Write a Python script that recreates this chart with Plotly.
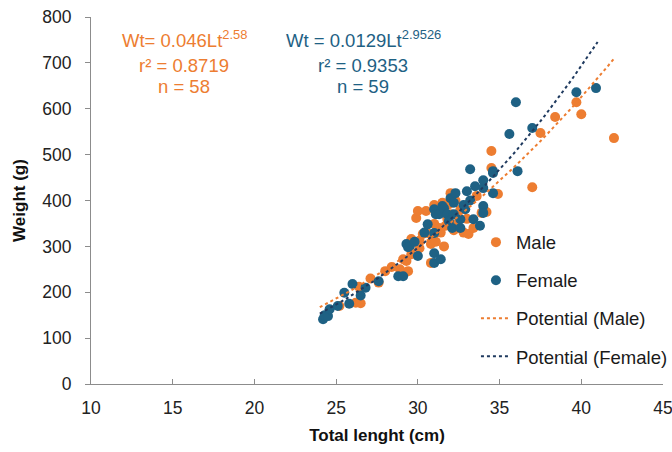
import numpy as np
import plotly.graph_objects as go

# ---- data ----
male_len = [25.2, 26.2, 26.5, 26.4, 27.1, 27.6, 28.0, 28.4, 28.9, 29.1,
            29.3, 29.4, 29.6, 29.9, 30.0, 30.1, 30.1, 30.3, 30.5, 30.6,
            30.8, 30.8, 30.9, 31.0, 31.0, 31.1, 31.2, 31.3, 31.4, 31.5,
            31.6, 31.7, 31.8, 31.9, 32.0, 32.0, 32.2, 32.3, 32.4, 32.5,
            32.6, 32.8, 33.0, 33.1, 33.4, 33.6, 33.9, 34.2, 34.5, 34.5,
            34.9, 37.0, 37.5, 38.4, 39.7, 40.0, 42.0, 29.6]
male_wt = [170, 177, 176, 212, 230, 221, 246, 255, 250, 272,
           268, 246, 283, 362, 377, 312, 296, 327, 377, 329,
           305, 264, 322, 349, 390, 310, 377, 340, 330, 395,
           300, 345, 360, 392, 416, 370, 335, 400, 350, 340,
           380, 330, 360, 327, 340, 410, 373, 375, 508, 471,
           414, 429, 547, 582, 614, 588, 536, 316]

female_len = [24.2, 24.3, 24.5, 24.6, 25.1, 25.5, 25.8, 26.0, 26.5, 26.8,
              27.6, 28.8, 29.1, 29.3, 29.4, 29.5, 29.8, 30.0, 30.4, 30.6,
              31.0, 31.0, 31.0, 31.0, 31.1, 31.3, 31.4, 31.5, 31.6, 31.8,
              31.9, 32.0, 32.1, 32.2, 32.2, 32.3, 32.6, 32.6, 32.8, 32.9,
              33.0, 33.2, 33.2, 33.4, 33.5, 33.8, 34.0, 34.0, 34.0, 34.0,
              34.6, 34.6, 34.6, 35.6, 36.0, 36.1, 37.0, 39.7, 40.9]
female_wt = [141, 150, 148, 163, 170, 199, 175, 218, 193, 210,
             224, 235, 235, 305, 298, 300, 310, 279, 330, 348,
             329, 285, 264, 381, 370, 370, 272, 388, 383, 370,
             355, 405, 340, 395, 370, 416, 359, 340, 390, 381,
             420, 468, 400, 359, 431, 345, 427, 444, 388, 373,
             464, 460, 416, 545, 614, 464, 558, 636, 645]

# power ("Potential") trend lines as printed on the chart
male_a, male_b = 0.046, 2.58
female_a, female_b = 0.0129, 2.9526
male_range = [24.0, 42.0]
female_range = [24.0, 41.0]

x_ticks = [10, 15, 20, 25, 30, 35, 40, 45]
y_ticks = [0, 100, 200, 300, 400, 500, 600, 700, 800]

male_label = ["Wt= 0.046Lt<sup>2.58</sup>", "r² = 0.8719", "n = 58"]
female_label = ["Wt = 0.0129Lt<sup>2.9526</sup>", "r² = 0.9353", "n = 59"]

ORANGE = "#ED7D31"
TEAL = "#1E6184"
NAVY = "#1F3A5F"
FONT = "Liberation Sans, Arial, sans-serif"

mx = np.linspace(male_range[0], male_range[1], 80)
fx = np.linspace(female_range[0], female_range[1], 80)

fig = go.Figure()
fig.add_trace(go.Scatter(x=male_len, y=male_wt, mode="markers", name="Male",
                         legendgroup="a",
                         marker=dict(color=ORANGE, size=10, line=dict(width=0))))
fig.add_trace(go.Scatter(x=female_len, y=female_wt, mode="markers", name="Female",
                         legendgroup="b",
                         marker=dict(color=TEAL, size=10, line=dict(width=0))))
fig.add_trace(go.Scatter(x=mx, y=male_a * mx ** male_b, mode="lines",
                         name="Potential (Male)", legendgroup="c",
                         line=dict(color=ORANGE, width=2, dash="dot")))
fig.add_trace(go.Scatter(x=fx, y=female_a * fx ** female_b, mode="lines",
                         name="Potential (Female)", legendgroup="d",
                         line=dict(color=NAVY, width=2, dash="dot")))

line_y = [752, 695, 649]
for txt, yy in zip(male_label, line_y):
    fig.add_annotation(x=15.71, y=yy, xref="x", yref="y", showarrow=False,
                       text=txt, yanchor="middle",
                       font=dict(family=FONT, size=18.5, color=ORANGE))
for txt, yy in zip(female_label, line_y):
    fig.add_annotation(x=26.65, y=yy, xref="x", yref="y", showarrow=False,
                       text=txt, yanchor="middle",
                       font=dict(family=FONT, size=18.5, color=TEAL))

fig.update_layout(
    width=672, height=452,
    margin=dict(l=91, r=9, t=17, b=68, autoexpand=False),
    paper_bgcolor="white", plot_bgcolor="white",
    font=dict(family=FONT, size=17.5, color="#222222"),
    showlegend=True,
    legend=dict(x=0.673, y=0.437, xanchor="left", yanchor="top",
                tracegroupgap=11, bgcolor="rgba(0,0,0,0)",
                font=dict(family=FONT, size=18.5, color="#1a1a1a")),
    xaxis=dict(range=[10, 45], tickvals=x_ticks, showgrid=False, zeroline=False,
               showline=True, linecolor="#8C8C8C", linewidth=1,
               ticks="inside", ticklen=5, tickcolor="#8C8C8C",
               ticklabelstandoff=8, ticklabeloverflow="allow",
               tickfont=dict(size=17.5, color="#222222"),
               title=dict(text="<b>Total lenght (cm)</b>", standoff=12,
                          font=dict(size=17, color="#111111"))),
    yaxis=dict(range=[0, 800], tickvals=y_ticks, showgrid=False, zeroline=False,
               showline=True, linecolor="#8C8C8C", linewidth=1,
               ticks="outside", ticklen=5, tickcolor="#8C8C8C",
               ticklabelstandoff=10,
               tickfont=dict(size=17.5, color="#222222"),
               title=dict(text="<b>Weight (g)</b>", standoff=12,
                          font=dict(size=17, color="#111111"))),
)

fig.write_html("out.html")
